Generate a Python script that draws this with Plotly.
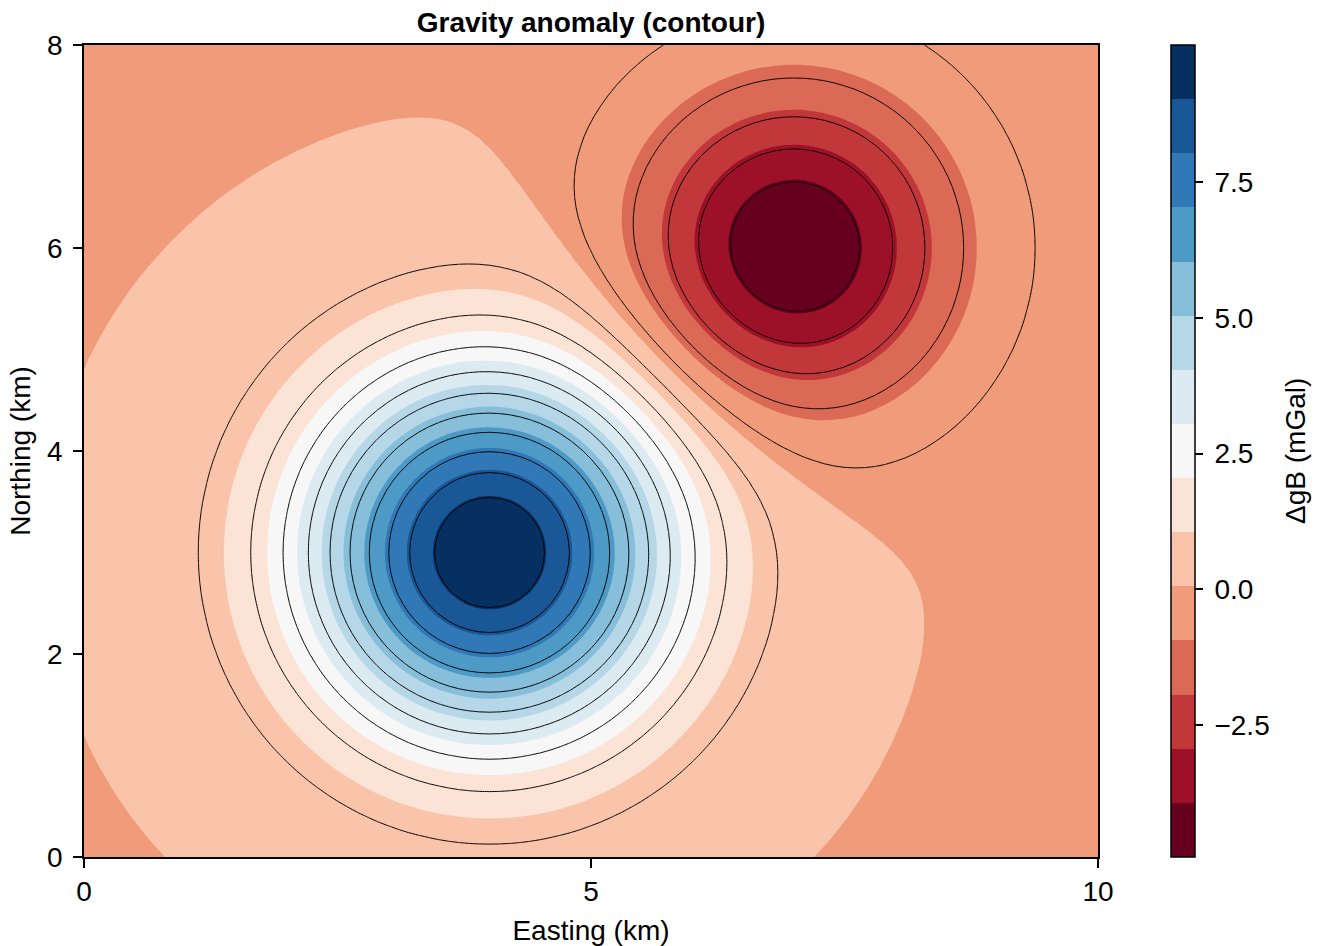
import numpy as np
import plotly.graph_objects as go

# ---------------- data ----------------
easting = np.linspace(0, 10, 101)      # km
northing = np.linspace(0, 8, 81)       # km

# anomaly sources estimated from the contour pattern
src_x = [4.0, 7.0]          # km
src_y = [3.0, 6.0]          # km
src_amp = [10.0, -5.0]      # mGal
src_var = [1.5, 1.0]        # km^2
regional = 0.036            # mGal

n_fill_bands = 15
n_lines = 15

cbar_tickvals = [-2.5, 0.0, 2.5, 5.0, 7.5]
cbar_ticktext = ["\u2009\u22122.5", "\u20090.0", "\u20092.5", "\u20095.0", "\u20097.5"]
x_tickvals = [0, 5, 10]
y_tickvals = [0, 2, 4, 6, 8]

# ---------------- field ----------------
X, Y = np.meshgrid(easting, northing)
Z = np.full_like(X, regional)
for sx, sy, a, v in zip(src_x, src_y, src_amp, src_var):
    Z = Z + a * np.exp(-((X - sx) ** 2 + (Y - sy) ** 2) / (2 * v))
zmin, zmax = float(Z.min()), float(Z.max())

# ---------------- colours (ColorBrewer RdBu, red->blue) ----------------
rdbu = ["#67001f", "#b2182b", "#d6604d", "#f4a582", "#fddbc7", "#f7f7f7",
        "#d1e5f0", "#92c5de", "#4393c3", "#2166ac", "#053061"]


def hex2rgb(h):
    h = h.lstrip("#")
    return [int(h[i:i + 2], 16) for i in (0, 2, 4)]


def sample(t):
    p = t * (len(rdbu) - 1)
    i = min(int(np.floor(p)), len(rdbu) - 2)
    f = p - i
    c0, c1 = hex2rgb(rdbu[i]), hex2rgb(rdbu[i + 1])
    c = [round(c0[k] + (c1[k] - c0[k]) * f) for k in range(3)]
    return "rgb(%d,%d,%d)" % tuple(c)


band_colors = [sample(i / (n_fill_bands - 1)) for i in range(n_fill_bands)]
colorscale = []
for i, c in enumerate(band_colors):
    colorscale.append([i / n_fill_bands, c])
    colorscale.append([(i + 1) / n_fill_bands, c])

dfill = (zmax - zmin) / n_fill_bands
dline = (zmax - zmin) / (n_lines + 1)

FONT = "Liberation Sans, Arial, sans-serif"
TICK_FONT = dict(family=FONT, size=28, color="black")
LABEL_FONT = dict(family=FONT, size=28, color="black")

fig = go.Figure()
fig.add_trace(go.Contour(
    x=easting, y=northing, z=Z,
    zmin=zmin, zmax=zmax,
    colorscale=colorscale,
    contours=dict(start=zmin + dfill, end=zmin + (n_fill_bands - 1) * dfill + 1e-9,
                  size=dfill, coloring="fill", showlines=False),
    line=dict(width=0, smoothing=0),
    colorbar=dict(
        x=(1171 - 84) / 1014, xanchor="left", xpad=0,
        y=0.5, yanchor="middle", ypad=0, len=1, lenmode="fraction",
        thickness=24, outlinewidth=1.5, outlinecolor="black",
        ticks="outside", ticklen=8, tickwidth=1.5, tickcolor="black",
        tickvals=cbar_tickvals, ticktext=cbar_ticktext,
        tickfont=TICK_FONT,
    ),
    hoverinfo="skip",
))
fig.add_trace(go.Contour(
    x=easting, y=northing, z=Z,
    contours=dict(start=zmin + dline, end=zmin + n_lines * dline + 1e-9,
                  size=dline, coloring="none", showlines=True),
    line=dict(color="black", width=1, smoothing=0),
    showscale=False, hoverinfo="skip",
))

fig.add_annotation(
    text="\u0394gB (mGal)", textangle=-90,
    xref="paper", yref="paper", x=(1295 - 84) / 1014, y=0.5,
    xanchor="center", yanchor="middle", showarrow=False,
    font=LABEL_FONT,
)

fig.update_layout(
    width=1328, height=946,
    margin=dict(l=84, r=230, t=45, b=89, autoexpand=False),
    paper_bgcolor="white", plot_bgcolor="white",
    font=dict(family=FONT, size=24, color="black"),
    title=dict(text="<b>Gravity anomaly (contour)</b>", x=0.5, xref="paper",
               y=1 - 22 / 946, yref="container", yanchor="middle",
               font=dict(family=FONT, size=28, color="black")),
    xaxis=dict(range=[0, 10], tickvals=x_tickvals, ticks="outside", ticklen=9,
               tickwidth=1.5, tickcolor="black", showline=True, linecolor="black",
               linewidth=1.5, mirror=True, showgrid=False, zeroline=False,
               automargin=False,
               tickfont=TICK_FONT, ticklabelstandoff=0,
               title=dict(text="Easting (km)", standoff=14, font=LABEL_FONT)),
    yaxis=dict(range=[0, 8], tickvals=y_tickvals, ticks="outside", ticklen=9,
               tickwidth=1.5, tickcolor="black", showline=True, linecolor="black",
               linewidth=1.5, mirror=True, showgrid=False, zeroline=False,
               automargin=False,
               tickfont=TICK_FONT, ticklabelstandoff=5,
               title=dict(text="Northing (km)", standoff=8, font=LABEL_FONT)),
)

fig.write_html("out.html")
